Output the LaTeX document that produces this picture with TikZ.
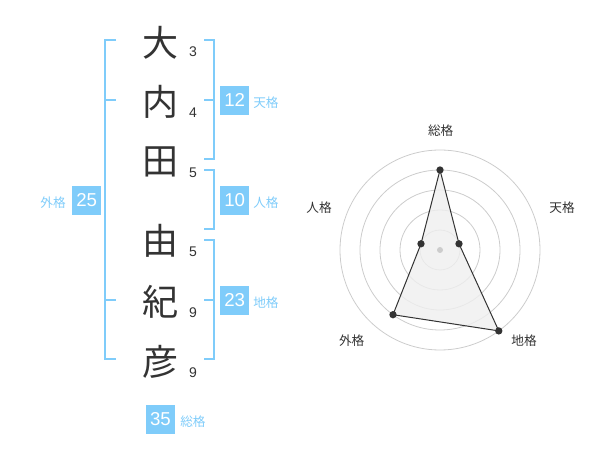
\documentclass[tikz,border=0pt]{standalone}
\usepackage{fontspec}
\setmainfont{Liberation Sans}
\newfontfamily\jp{Noto Sans CJK JP}
\definecolor{nb}{HTML}{7FCCFA}
\definecolor{ink}{HTML}{333333}
\definecolor{gridc}{HTML}{CCCCCC}
\definecolor{fillc}{HTML}{EFEFEF}
\begin{document}
\begin{tikzpicture}[x=0.75pt,y=-0.75pt,
  kanji/.style={text=ink,font=\jp\fontsize{27}{27}\selectfont,inner sep=0pt},
  strokes/.style={text=ink,font=\fontsize{10.5}{10.5}\selectfont,inner sep=0pt},
  br/.style={draw=nb,line width=1.5pt},
  numbox/.style={fill=nb,text=white,minimum size=21.75pt,inner sep=0pt,font=\fontsize{14}{14}\selectfont},
  lab/.style={text=nb,font=\jp\fontsize{9.5}{9.5}\selectfont,inner sep=0pt},
  rlab/.style={text=ink,font=\jp\fontsize{9.5}{9.5}\selectfont,inner sep=0pt},
  gridl/.style={draw=gridc,line width=0.6pt},
  dot/.style={circle,fill=ink,inner sep=0pt,minimum size=5.5pt}]
\useasboundingbox (0,0) rectangle (600,470);
% kanji
\node[kanji] (k1) at (160,43) {大};
\node[kanji] (k2) at (160,102) {内};
\node[kanji] (k3) at (160,162) {田};
\node[kanji] (k4) at (160,241) {由};
\node[kanji] (k5) at (160,302) {紀};
\node[kanji] (k6) at (160,362) {彦};
% stroke counts
\node[strokes] (s1) at (193,52) {3};
\node[strokes] (s2) at (193,113) {4};
\node[strokes] (s3) at (193,173) {5};
\node[strokes] (s4) at (193,252) {5};
\node[strokes] (s5) at (193,313) {9};
\node[strokes] (s6) at (193,373) {9};
% brackets
\draw[br] (116,40) -- (105,40) -- (105,359) -- (116,359);
\draw[br] (105,100) -- (116,100);
\draw[br] (105,300) -- (116,300);
\draw[br] (204,40) -- (214,40) -- (214,159.5) -- (204,159.5);
\draw[br] (204,100) -- (214,100);
\draw[br] (204,170) -- (214,170) -- (214,229.5) -- (204,229.5);
\draw[br] (204,240) -- (214,240) -- (214,359) -- (204,359);
\draw[br] (204,300) -- (214,300);
% boxes
\node[numbox] (b12) at (234.7,100.3) {12};
\node[lab,anchor=west] (l12) at (253,103) {天格};
\node[numbox] (b10) at (234.7,200.3) {10};
\node[lab,anchor=west] (l10) at (253,203) {人格};
\node[numbox] (b23) at (234.7,300.3) {23};
\node[lab,anchor=west] (l23) at (253,303) {地格};
\node[numbox] (b25) at (86.7,200.3) {25};
\node[lab,anchor=east] (l25) at (66,203) {外格};
\node[numbox] (b35) at (160.5,419) {35};
\node[lab,anchor=west] (l35) at (180,422) {総格};
% radar
\coordinate (c) at (440,250);
\foreach \r in {20,40,60,80,100} \draw[gridl] (c) circle[radius=\r];
\coordinate (p1) at (440,170);
\coordinate (p2) at (459.0,243.8);
\coordinate (p3) at (498.8,330.9);
\coordinate (p4) at (393.0,314.7);
\coordinate (p5) at (421.0,243.8);
\filldraw[fill=fillc,fill opacity=0.8,draw=ink,line width=0.75pt] (p1) -- (p2) -- (p3) -- (p4) -- (p5) -- cycle;
\node[circle,fill=gridc,inner sep=0pt,minimum size=4.5pt] (cd) at (c) {};
\foreach \p in {p1,p2,p3,p4,p5} \node[dot] at (\p) {};
\node[rlab] (r1) at (440.7,130.7) {総格};
\node[rlab] (r2) at (562,208) {天格};
\node[rlab] (r3) at (524,341) {地格};
\node[rlab] (r4) at (351.7,341) {外格};
\node[rlab] (r5) at (319,208) {人格};
\end{tikzpicture}
\end{document}
